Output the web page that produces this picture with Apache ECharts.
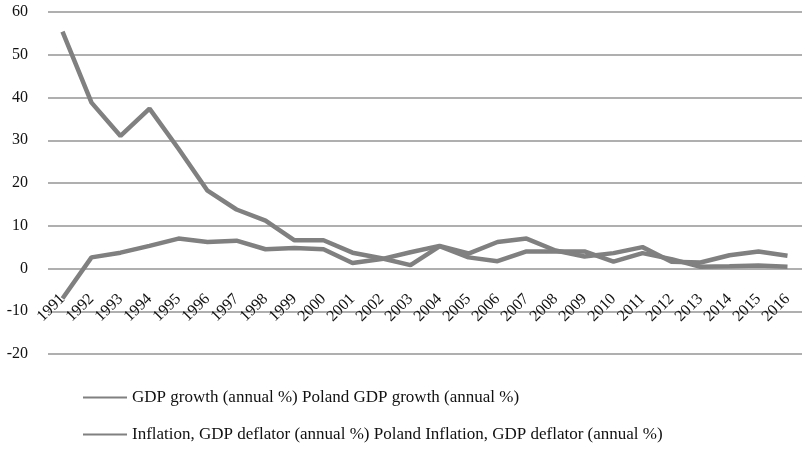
<!DOCTYPE html>
<html>
<head>
<meta charset="utf-8">
<script src="https://cdn.jsdelivr.net/npm/echarts@6/dist/echarts.min.js"></script>
<style>
  html, body { margin: 0; padding: 0; background: #fff; }
  #chart { width: 802px; height: 449px; }
</style>
</head>
<body>
<div id="chart"></div>
<script>
const years = ['1991', '1992', '1993', '1994', '1995', '1996', '1997', '1998', '1999', '2000',
  '2001', '2002', '2003', '2004', '2005', '2006', '2007', '2008', '2009', '2010',
  '2011', '2012', '2013', '2014', '2015', '2016']

const gdpName = 'GDP growth (annual %) Poland GDP growth (annual %)'
const inflName = 'Inflation, GDP deflator (annual %) Poland Inflation, GDP deflator (annual %)'

// GDP growth, annual %
const gdpGrowth = [-7.0, 2.6, 3.7, 5.3, 7.0, 6.2, 6.5, 4.5, 4.8, 4.5,
  1.3, 2.2, 3.8, 5.3, 3.5, 6.2, 7.0, 4.2, 2.8, 3.6,
  5.0, 1.6, 1.4, 3.1, 4.0, 3.0]

// Inflation, GDP deflator, annual %
const inflation = [55.4, 38.8, 31.0, 37.4, 28.0, 18.2, 13.8, 11.2, 6.6, 6.6,
  3.7, 2.4, 0.8, 5.2, 2.6, 1.7, 4.0, 4.0, 4.0, 1.6,
  3.6, 2.2, 0.4, 0.5, 0.7, 0.4]

const yTicks = { min: -20, max: 60, step: 10 }

const chart = echarts.init(document.getElementById('chart'))

const font = 'Liberation Serif'
const lineColor = '#808080'
const gridColor = '#959595'

// grid box: top 12, bottom 95 -> plot height 342 for 80 units
const gridTop = 12
const gridBottom = 95
const plotHeight = 449 - gridTop - gridBottom
// category labels sit under the zero line, not at the bottom of the plot
const zeroOffset = -plotHeight * (0 - yTicks.min) / (yTicks.max - yTicks.min)

chart.setOption({
  animation: false,
  grid: { left: 48, right: 0, top: gridTop, bottom: gridBottom },
  legend: {
    orient: 'vertical',
    left: 83,
    top: 389,
    padding: 0,
    itemGap: 20,
    itemWidth: 44,
    itemHeight: 2,
    icon: 'rect',
    data: [gdpName, inflName],
    itemStyle: { color: lineColor },
    textStyle: { fontFamily: font, fontSize: 17, color: '#111', lineHeight: 17 }
  },
  xAxis: {
    type: 'category',
    data: years,
    boundaryGap: true,
    offset: zeroOffset,
    axisLine: { show: false, onZero: false },
    axisTick: { show: false },
    axisLabel: {
      rotate: 45,
      interval: 0,
      margin: 28,
      fontFamily: font,
      fontSize: 16,
      color: '#111'
    }
  },
  yAxis: {
    type: 'value',
    min: yTicks.min,
    max: yTicks.max,
    interval: yTicks.step,
    axisLine: { show: false },
    axisTick: { show: false },
    axisLabel: { margin: 20, fontFamily: font, fontSize: 16, color: '#111' },
    splitLine: { lineStyle: { color: gridColor, width: 1.5 } }
  },
  series: [
    {
      name: gdpName,
      type: 'line',
      data: gdpGrowth,
      showSymbol: false,
      symbol: 'none',
      color: lineColor,
      lineStyle: { width: 4.5, color: lineColor }
    },
    {
      name: inflName,
      type: 'line',
      data: inflation,
      showSymbol: false,
      symbol: 'none',
      color: lineColor,
      lineStyle: { width: 4.5, color: lineColor }
    }
  ]
})
</script>
</body>
</html>
